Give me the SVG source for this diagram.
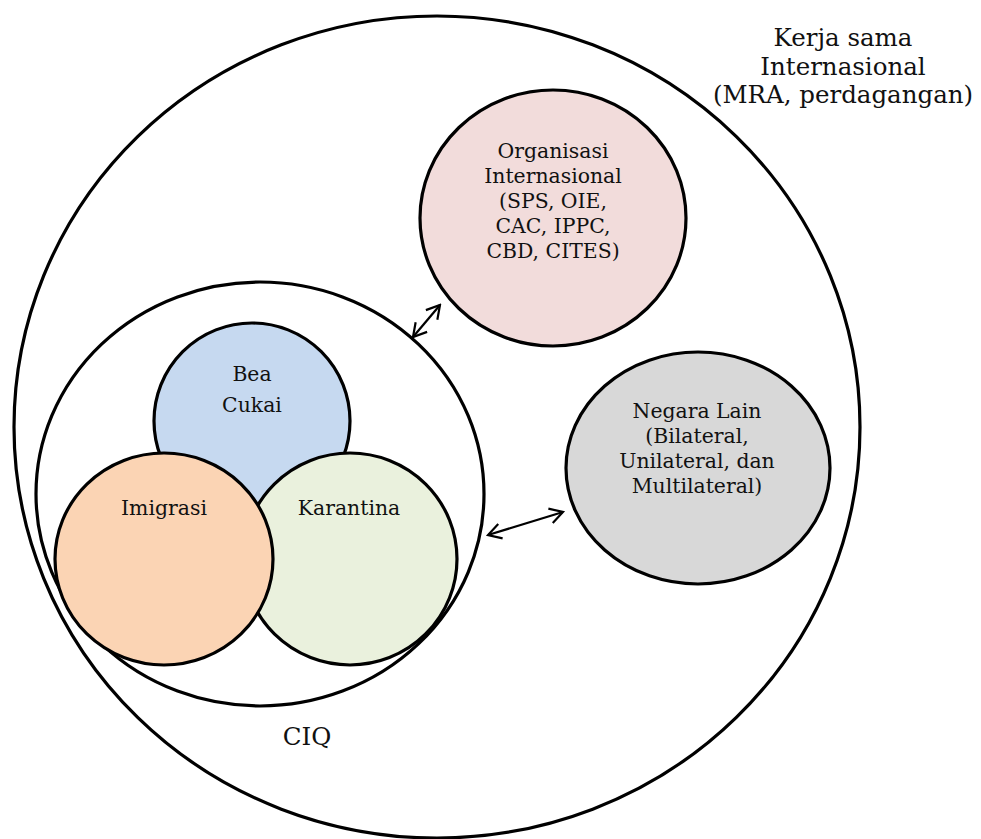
<svg xmlns="http://www.w3.org/2000/svg" width="981" height="839" viewBox="0 0 981 839">
<style>
.c{stroke:#000;stroke-width:3.2}
.t{font-family:"DejaVu Serif",serif;font-size:20.4px;fill:#111;text-anchor:middle}
.big{font-size:24.5px}
.a{stroke:#000;stroke-width:2.2;fill:none;marker-start:url(#ah);marker-end:url(#ah)}
</style>
<defs>
<marker id="ah" viewBox="0 0 18 18" refX="16" refY="9" markerWidth="18" markerHeight="18" markerUnits="userSpaceOnUse" orient="auto-start-reverse">
<path d="M3,1.5 L16,9 L3,16.5" fill="none" stroke="#000" stroke-width="2.2"/>
</marker>
</defs>
<rect width="981" height="839" fill="#fff"/>
<g id="outer">
<ellipse class="c" cx="437" cy="427" rx="423" ry="411" fill="#fff"/>
<text class="t big" x="843" y="46">Kerja sama</text>
<text class="t big" x="843" y="74.5">Internasional</text>
<text class="t big" x="843" y="103">(MRA, perdagangan)</text>
</g>
<g id="ciq">
<ellipse class="c" cx="260" cy="494" rx="224" ry="212" fill="#fff"/>
<text class="t big" x="307" y="745">CIQ</text>
</g>
<g id="bea-cukai">
<circle class="c" cx="252" cy="421" r="98" fill="#C6D9F0"/>
<text class="t" x="252" y="381">Bea</text>
<text class="t" x="252" y="412">Cukai</text>
</g>
<g id="karantina">
<ellipse class="c" cx="350" cy="559" rx="107" ry="106" fill="#EAF1DD"/>
<text class="t" x="349" y="515">Karantina</text>
</g>
<g id="imigrasi">
<ellipse class="c" cx="164" cy="559" rx="109" ry="106" fill="#FBD4B4"/>
<text class="t" x="164" y="515">Imigrasi</text>
</g>
<g id="organisasi">
<ellipse class="c" cx="553" cy="218" rx="133" ry="128" fill="#F2DCDB"/>
<text class="t" x="553" y="158">Organisasi</text>
<text class="t" x="553" y="183">Internasional</text>
<text class="t" x="553" y="208">(SPS, OIE,</text>
<text class="t" x="553" y="233">CAC, IPPC,</text>
<text class="t" x="553" y="258">CBD, CITES)</text>
</g>
<g id="negara-lain">
<ellipse class="c" cx="698" cy="468" rx="132" ry="116" fill="#D8D8D8"/>
<text class="t" x="697" y="418">Negara Lain</text>
<text class="t" x="697" y="443">(Bilateral,</text>
<text class="t" x="697" y="468">Unilateral, dan</text>
<text class="t" x="697" y="493">Multilateral)</text>
</g>
<g id="connectors">
<line class="a" x1="413" y1="337" x2="440" y2="305"/>
<line class="a" x1="488" y1="535" x2="563" y2="512"/>
</g>
</svg>
